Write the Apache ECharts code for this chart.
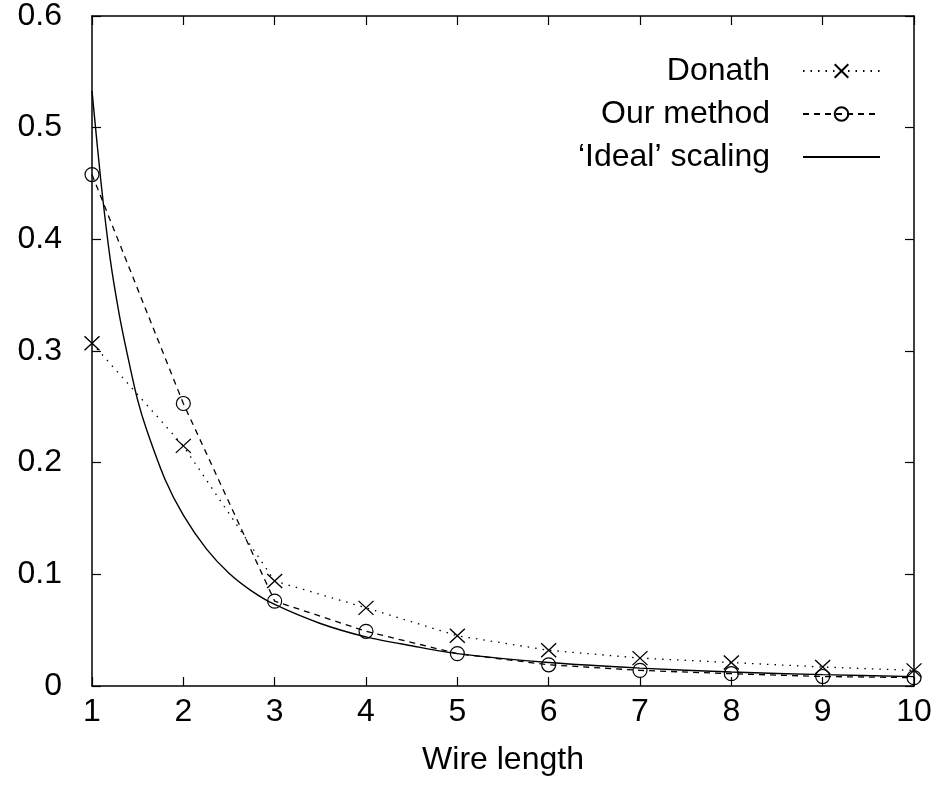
<!DOCTYPE html>
<html>
<head>
<meta charset="utf-8">
<script src="https://cdn.jsdelivr.net/npm/echarts@6/dist/echarts.min.js"></script>
<style>
html,body{margin:0;padding:0;background:#fff;}
#chart{width:936px;height:796px;}
</style>
</head>
<body>
<div id="chart"></div>
<script>
// ---- data ----
var wireLength = [1, 2, 3, 4, 5, 6, 7, 8, 9, 10];
var donath = [0.307, 0.215, 0.094, 0.070, 0.045, 0.032, 0.025, 0.021, 0.017, 0.014];
var ourMethod = [0.458, 0.253, 0.076, 0.049, 0.029, 0.019, 0.014, 0.011, 0.0085, 0.0075];
var idealX = [1, 1.1, 1.2, 1.3, 1.4, 1.5, 1.6, 1.8, 2, 2.25, 2.5, 2.75, 3, 3.5, 4, 4.5, 5, 6, 7, 8, 9, 10];
var idealY = [0.533, 0.450, 0.382, 0.332, 0.292, 0.256, 0.229, 0.185, 0.153, 0.123, 0.101, 0.085, 0.073, 0.056, 0.044, 0.036, 0.029, 0.021, 0.016, 0.0125, 0.0102, 0.0084];
var seriesNames = ['Donath', 'Our method', '\u2018Ideal\u2019 scaling'];

function pairs(xs, ys) { return xs.map(function (x, i) { return [x, ys[i]]; }); }

var FONT = '"Liberation Sans", Arial, Helvetica, sans-serif';
var FS = 32;
var chart = echarts.init(document.getElementById('chart'), null, {renderer: 'canvas'});

var axisLineStyle = {color: '#000', width: 1.5};
var tickStyle = {show: true, inside: true, length: 9, lineStyle: {color: '#000', width: 1.2}};
var option = {
  backgroundColor: '#fff',
  animation: false,
  textStyle: {fontFamily: FONT},
  grid: {left: 92, right: 22, top: 12, bottom: 110, containLabel: false},
  legend: {
    orient: 'vertical',
    align: 'right',
    right: 50,
    top: 50,
    itemWidth: 77,
    itemHeight: 17,
    itemGap: 11,
    textStyle: {fontFamily: FONT, fontSize: FS, color: '#000', lineHeight: 32, padding: [0, 28, 0, 0]},
    data: seriesNames
  },
  xAxis: [{
    type: 'value', min: 1, max: 10, interval: 1, position: 'bottom',
    name: 'Wire length', nameLocation: 'middle', nameGap: 58,
    nameTextStyle: {fontFamily: FONT, fontSize: FS, color: '#000'},
    axisLine: {show: true, lineStyle: axisLineStyle},
    axisTick: tickStyle,
    axisLabel: {show: true, margin: 10, fontFamily: FONT, fontSize: FS, color: '#000'},
    splitLine: {show: false}
  }, {
    type: 'value', min: 1, max: 10, interval: 1, position: 'top',
    axisLine: {show: true, onZero: false, lineStyle: axisLineStyle},
    axisTick: tickStyle,
    axisLabel: {show: false},
    splitLine: {show: false}
  }],
  yAxis: [{
    type: 'value', min: 0, max: 0.6, interval: 0.1, position: 'left',
    axisLine: {show: true, onZero: false, lineStyle: axisLineStyle},
    axisTick: tickStyle,
    axisLabel: {show: true, margin: 30, fontFamily: FONT, fontSize: FS, color: '#000',
      formatter: function (v) { return String(+v.toFixed(1)); }},
    splitLine: {show: false}
  }, {
    type: 'value', min: 0, max: 0.6, interval: 0.1, position: 'right',
    axisLine: {show: true, onZero: false, lineStyle: axisLineStyle},
    axisTick: tickStyle,
    axisLabel: {show: false},
    splitLine: {show: false}
  }],
  series: [{
    name: seriesNames[0], type: 'line',
    data: pairs(wireLength, donath),
    symbol: 'path://M0,0L10,10M10,0L0,10', symbolSize: [15, 14], showSymbol: true,
    itemStyle: {color: 'transparent', borderColor: '#000', borderWidth: 1.3},
    lineStyle: {color: '#000', width: 1.3, type: [1.5, 6]},
    z: 3
  }, {
    name: seriesNames[1], type: 'line',
    data: pairs(wireLength, ourMethod),
    symbol: 'circle', symbolSize: 14, showSymbol: true,
    itemStyle: {color: 'transparent', borderColor: '#000', borderWidth: 1.2},
    lineStyle: {color: '#000', width: 1.3, type: [6, 5]},
    z: 3
  }, {
    name: seriesNames[2], type: 'line',
    data: pairs(idealX, idealY),
    symbol: 'none', smooth: 0.3,
    itemStyle: {color: 'transparent', borderColor: 'transparent', borderWidth: 0},
    lineStyle: {color: '#000', width: 1.4, type: 'solid'},
    z: 2
  }]
};
chart.setOption(option);
</script>
</body>
</html>
